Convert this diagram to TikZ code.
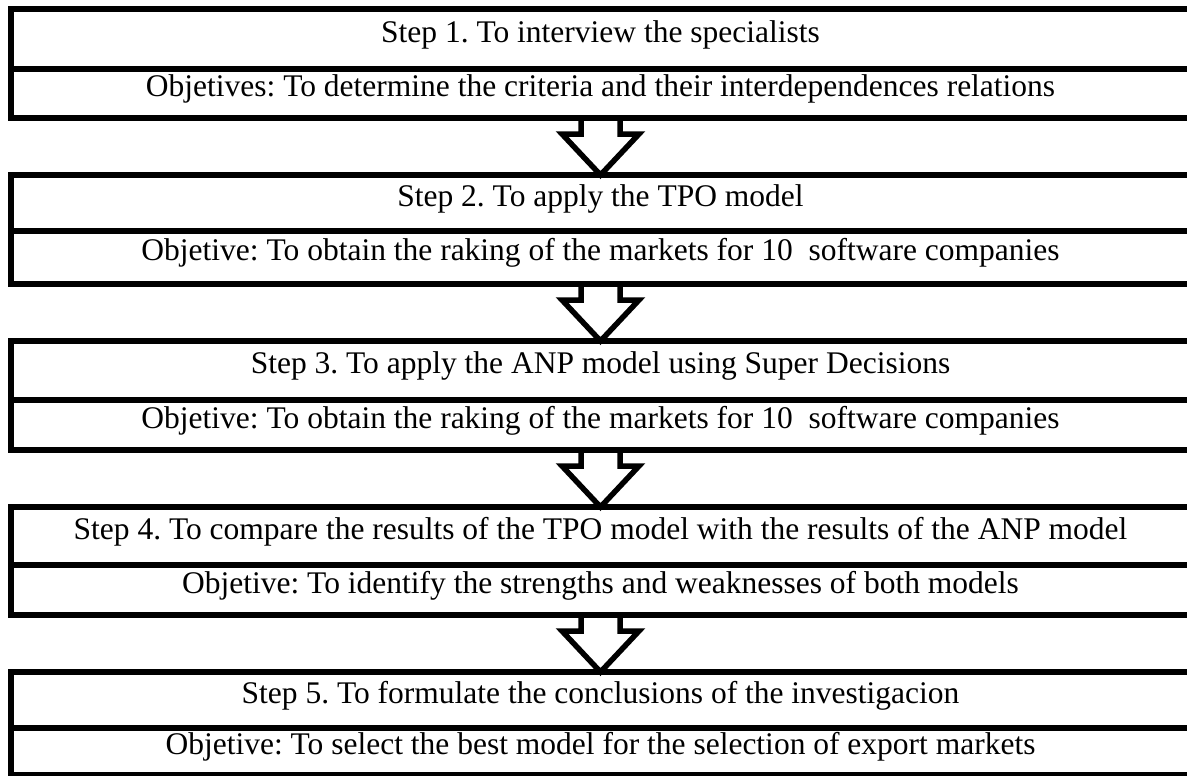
\documentclass[tikz,border=0pt]{standalone}
\usepackage{fontspec}
\setmainfont{Liberation Serif}
\usetikzlibrary{calc}
\frenchspacing
\newcommand\flowarrow[2]{%
  \draw[flow] ($(#1.south)+(-19.5pt,0)$) -- ++(0,-16pt) -- ++(-19pt,0) -- (#2.north)
    -- ($(#1.south)+(38.5pt,-16pt)$) -- ++(-19pt,0) -- ++(0,16pt);}
\begin{document}
\begin{tikzpicture}[
  every node/.style={inner sep=0pt, outer sep=0pt},
  row/.style={draw, line width=5.5pt, rectangle, minimum width=1179pt,
    font=\fontsize{31.5}{36}\selectfont\frenchspacing, text height=0.66em, text depth=0pt, anchor=north},
  flow/.style={draw, line width=5.5pt, line join=miter}
]
\useasboundingbox (0,0) rectangle (1187pt,-776pt);
\clip (0,0) rectangle (1187pt,-776pt);
\fill[white] (0,0) rectangle (1187pt,-776pt);
% Step 1
\node[row, minimum height=60pt] (s1) at (600.5pt,-9pt) {Step 1. To interview the specialists};
\node[row, minimum height=49pt] (o1) at (s1.south) {Objetives: To determine the criteria and their interdependences relations};
% Step 2
\node[row, minimum height=56pt] (s2) at (600.5pt,-175pt) {Step 2. To apply the TPO model};
\node[row, minimum height=53pt] (o2) at (s2.south) {Objetive: To obtain the raking of the markets for 10\ \ software companies};
% Step 3
\node[row, minimum height=59pt] (s3) at (600.5pt,-341pt) {Step 3. To apply the ANP model using Super Decisions};
\node[row, minimum height=50pt] (o3) at (s3.south) {Objetive: To obtain the raking of the markets for 10\ \ software companies};
% Step 4
\node[row, minimum height=58pt] (s4) at (600.5pt,-507pt) {Step 4. To compare the results of the TPO model with the results of the ANP model};
\node[row, minimum height=50pt] (o4) at (s4.south) {Objetive: To identify the strengths and weaknesses of both models};
% Step 5
\node[row, minimum height=56pt] (s5) at (600.5pt,-672pt) {Step 5. To formulate the conclusions of the investigacion};
\node[row, minimum height=47pt] (o5) at (s5.south) {Objetive: To select the best model for the selection of export markets};
% arrows
\flowarrow{o1}{s2}
\flowarrow{o2}{s3}
\flowarrow{o3}{s4}
\flowarrow{o4}{s5}
\end{tikzpicture}
\end{document}
